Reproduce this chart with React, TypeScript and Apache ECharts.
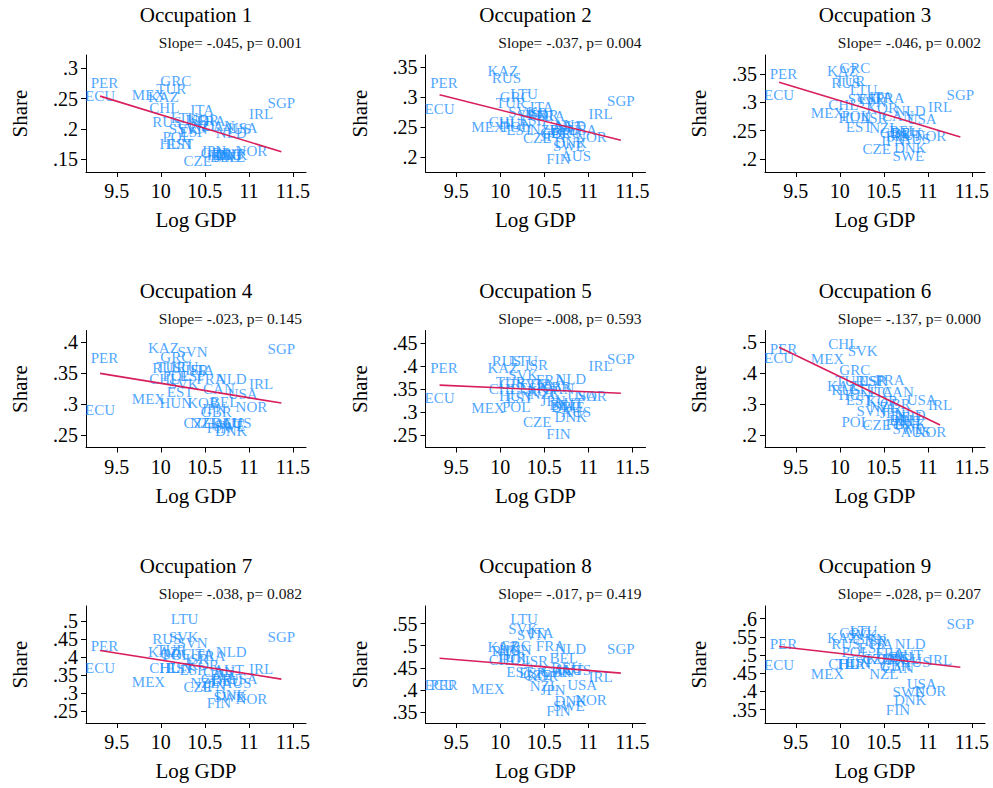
import React, { useEffect, useRef } from 'react';
import * as echarts from 'echarts';

const FONT = '"Liberation Serif", "Times New Roman", Times, serif';
const LABEL_COLOR = 'rgb(30,144,255)';
const LINE_COLOR = '#d81f5b';

const countries = ['ECU','PER','MEX','KAZ','CHL','RUS','TUR','GRC','HUN','POL','EST','LTU','SVK','SVN','ESP','ISR','CZE','ITA','KOR','NZL','FRA','JPN','GBR','FIN','CAN','BEL','DEU','AUT','SWE','DNK','NLD','AUS','USA','NOR','IRL','SGP'];
const logGdp = [9.31,9.36,9.86,10.03,10.04,10.07,10.12,10.17,10.17,10.18,10.22,10.27,10.26,10.36,10.36,10.41,10.42,10.47,10.48,10.5,10.57,10.6,10.63,10.66,10.66,10.72,10.75,10.77,10.78,10.8,10.8,10.86,10.93,11.03,11.14,11.37];

const occ1 = [0.254,0.276,0.256,0.252,0.234,0.212,0.265,0.279,0.174,0.187,0.175,0.217,0.2,0.2,0.195,0.215,0.146,0.231,0.215,0.205,0.213,0.163,0.16,0.156,0.205,0.154,0.156,0.158,0.154,0.157,0.193,0.2,0.202,0.164,0.224,0.243];
const occ2 = [0.28,0.323,0.251,0.343,0.259,0.332,0.291,0.3,0.255,0.25,0.2455,0.3055,0.276,0.27,0.262,0.274,0.232,0.283,0.27,0.245,0.268,0.235,0.24,0.197,0.254,0.245,0.24,0.25,0.218,0.223,0.252,0.201,0.246,0.233,0.272,0.294];
const occ3 = [0.313,0.35,0.281,0.356,0.2955,0.334,0.338,0.36,0.272,0.275,0.256,0.322,0.306,0.3,0.306,0.272,0.2177,0.31,0.29,0.255,0.307,0.232,0.245,0.24,0.275,0.25,0.245,0.242,0.2046,0.219,0.284,0.235,0.27,0.241,0.291,0.313];
const occ4 = [0.291,0.374,0.309,0.3907,0.34,0.359,0.36,0.3755,0.302,0.345,0.32,0.36,0.332,0.385,0.345,0.3547,0.269,0.355,0.302,0.27,0.34,0.292,0.288,0.261,0.3253,0.303,0.27,0.268,0.265,0.2565,0.341,0.27,0.3166,0.2947,0.3318,0.389];
const occ5 = [0.3307,0.395,0.3087,0.3966,0.35,0.411,0.365,0.36,0.335,0.311,0.33,0.411,0.38,0.36,0.352,0.4016,0.278,0.36,0.345,0.34,0.37,0.323,0.355,0.252,0.35,0.315,0.31,0.32,0.31,0.289,0.371,0.3,0.3357,0.335,0.4,0.4148];
const occ6 = [0.4477,0.478,0.4454,0.358,0.4944,0.345,0.374,0.4104,0.33,0.2416,0.3145,0.35,0.4725,0.2763,0.374,0.374,0.2327,0.34,0.31,0.29,0.3767,0.27,0.3,0.235,0.3384,0.25,0.26,0.245,0.22,0.235,0.2654,0.21,0.3145,0.2108,0.2982,null];
const occ7 = [0.3695,0.432,0.332,0.416,0.3695,0.4507,0.42,0.41,0.37,0.405,0.37,0.5067,0.455,0.44,0.365,0.395,0.318,0.41,0.38,0.33,0.404,0.32,0.34,0.2743,0.36,0.35,0.335,0.365,0.29,0.295,0.415,0.33,0.339,0.2836,0.3676,0.455];
const occ8 = [0.4124,0.4124,0.4017,0.498,0.4679,0.488,0.475,0.5,0.49,0.47,0.44,0.5607,0.538,0.525,0.4375,0.4656,0.435,0.529,0.432,0.41,0.4998,0.3994,0.44,0.3522,0.44,0.4717,0.45,0.445,0.365,0.375,0.4923,0.445,0.4108,0.3766,0.4298,0.493];
const occ9 = [0.4726,0.531,0.4467,0.547,0.475,0.53,0.475,0.56,0.475,0.507,0.48,0.565,0.555,0.545,0.52,0.54,0.49,0.53,0.49,0.4467,0.505,0.485,0.47,0.3492,0.465,0.495,0.49,0.5,0.397,0.375,0.531,0.48,0.4216,0.4001,0.4866,0.586];

const slopeLabels = ['-.045','-.037','-.046','-.023','-.008','-.137','-.038','-.017','-.028'];
const pLabels = ['0.001','0.004','0.002','0.145','0.593','0.000','0.082','0.419','0.207'];
const fitStart = [0.254,0.304,0.3354,0.3498,0.3584,0.4836,0.4188,0.4717,0.5237];
const fitEnd = [0.162,0.228,0.2387,0.3018,0.3408,0.2327,0.3396,0.4382,0.4662];

const yMin = [0.1285,0.175,0.1771,0.23,0.223,0.1598,0.218,0.3258,0.3129];
const yMax = [0.322,0.3705,0.3834,0.419,0.477,0.538,0.542,0.5895,0.635];
const yTicks1 = [0.15,0.2,0.25,0.3];
const yTicks2 = [0.2,0.25,0.3,0.35];
const yTicks3 = [0.2,0.25,0.3,0.35];
const yTicks4 = [0.25,0.3,0.35,0.4];
const yTicks5 = [0.25,0.3,0.35,0.4,0.45];
const yTicks6 = [0.2,0.3,0.4,0.5];
const yTicks7 = [0.25,0.3,0.35,0.4,0.45,0.5];
const yTicks8 = [0.35,0.4,0.45,0.5,0.55];
const yTicks9 = [0.35,0.4,0.45,0.5,0.55,0.6];
const xTicks = [9.5,10,10.5,11,11.5];
const xMin = 9.15;
const xMax = 11.65;

export default function App() {
  const ref = useRef<HTMLDivElement>(null);
  useEffect(() => {
    document.body.style.margin = '0';
    const chart = echarts.init(ref.current!, null, { renderer: 'svg' });
    const shares = [occ1, occ2, occ3, occ4, occ5, occ6, occ7, occ8, occ9];
    const yTicks = [yTicks1, yTicks2, yTicks3, yTicks4, yTicks5, yTicks6, yTicks7, yTicks8, yTicks9];
    const COL = 339.5;
    const ROW = 275.5;
    const grids: any[] = [];
    const xAxes: any[] = [];
    const yAxes: any[] = [];
    const series: any[] = [];
    const graphics: any[] = [];
    const fmt = (v: number) => String(v).replace(/^0\./, '.');
    const yLabelStyle = { show: true, fontFamily: FONT, fontSize: 20, color: '#000', margin: 8, formatter: fmt, showMinLabel: true, showMaxLabel: true, hideOverlap: false };
    for (let i = 0; i < 9; i++) {
      const c = i % 3;
      const r = Math.floor(i / 3);
      const ox = c * COL;
      const oy = r * ROW;
      grids.push({ left: 86 + ox, top: 55 + oy, width: 220, height: 117, containLabel: false, outerBoundsMode: 'none' });
      xAxes.push({
        type: 'value', gridIndex: i, min: xMin, max: xMax,
        axisLine: { show: true, onZero: false, lineStyle: { color: '#000', width: 1 } },
        axisTick: { show: true, customValues: xTicks, length: 5, lineStyle: { color: '#000' } },
        axisLabel: { show: true, customValues: xTicks, fontFamily: FONT, fontSize: 20, color: '#000', margin: 9, formatter: fmt, showMinLabel: true, showMaxLabel: true, hideOverlap: false },
        splitLine: { show: false },
      });
      const evenTicks = yTicks[i].filter((_, k) => k % 2 === 0);
      const oddTicks = yTicks[i].filter((_, k) => k % 2 === 1);
      yAxes.push({
        type: 'value', gridIndex: i, min: yMin[i], max: yMax[i], position: 'left',
        axisLine: { show: true, onZero: false, lineStyle: { color: '#000', width: 1 } },
        axisTick: { show: true, customValues: yTicks[i], length: 5, lineStyle: { color: '#000' } },
        axisLabel: { ...yLabelStyle, customValues: evenTicks },
        splitLine: { show: false },
      });
      yAxes.push({
        type: 'value', gridIndex: i, min: yMin[i], max: yMax[i], position: 'left', offset: 0,
        axisLine: { show: false, onZero: false },
        axisTick: { show: false },
        axisLabel: { ...yLabelStyle, customValues: oddTicks },
        splitLine: { show: false },
      });
      const pts: any[] = [];
      let lo = Infinity, hi = -Infinity;
      countries.forEach((name, k) => {
        const y = shares[i][k];
        if (y == null) return;
        pts.push([logGdp[k], y, name]);
        lo = Math.min(lo, logGdp[k]);
        hi = Math.max(hi, logGdp[k]);
      });
      series.push({
        type: 'scatter', xAxisIndex: i, yAxisIndex: 2 * i, data: pts,
        symbol: 'circle', symbolSize: 1, itemStyle: { color: 'rgba(0,0,0,0)' },
        silent: true, clip: false, z: 2,
        label: { show: true, position: 'inside', formatter: (p: any) => p.data[2], color: LABEL_COLOR, fontFamily: FONT, fontSize: 15 },
      });
      series.push({
        type: 'line', xAxisIndex: i, yAxisIndex: 2 * i,
        data: [[lo, fitStart[i]], [hi, fitEnd[i]]],
        symbol: 'none', silent: true, clip: false, z: 3,
        lineStyle: { color: LINE_COLOR, width: 1.6 },
      });
      graphics.push({
        type: 'text', x: 196 + ox, y: 15 + oy,
        style: { text: `Occupation ${i + 1}`, font: `21px ${FONT}`, fill: '#000', textAlign: 'center', align: 'center', textVerticalAlign: 'middle', verticalAlign: 'middle' },
      });
      graphics.push({
        type: 'text', x: 302 + ox, y: 42.5 + oy,
        style: { text: `Slope= ${slopeLabels[i]}, p= ${pLabels[i]}`, font: `15.5px ${FONT}`, fill: '#111', textAlign: 'right', align: 'right', textVerticalAlign: 'middle', verticalAlign: 'middle' },
      });
      graphics.push({
        type: 'text', x: 20 + ox, y: 113.5 + oy, rotation: Math.PI / 2,
        style: { text: 'Share', font: `21px ${FONT}`, fill: '#000', textAlign: 'center', align: 'center', textVerticalAlign: 'middle', verticalAlign: 'middle' },
      });
      graphics.push({
        type: 'text', x: 196 + ox, y: 220 + oy,
        style: { text: 'Log GDP', font: `21px ${FONT}`, fill: '#000', textAlign: 'center', align: 'center', textVerticalAlign: 'middle', verticalAlign: 'middle' },
      });
    }
    chart.setOption({
      animation: false,
      backgroundColor: '#fff',
      grid: grids,
      xAxis: xAxes,
      yAxis: yAxes,
      series,
      graphic: graphics,
    });
    return () => chart.dispose();
  }, []);
  return <div ref={ref} style={{ position: 'fixed', left: 0, top: 0, width: 993, height: 788 }} />;
}
